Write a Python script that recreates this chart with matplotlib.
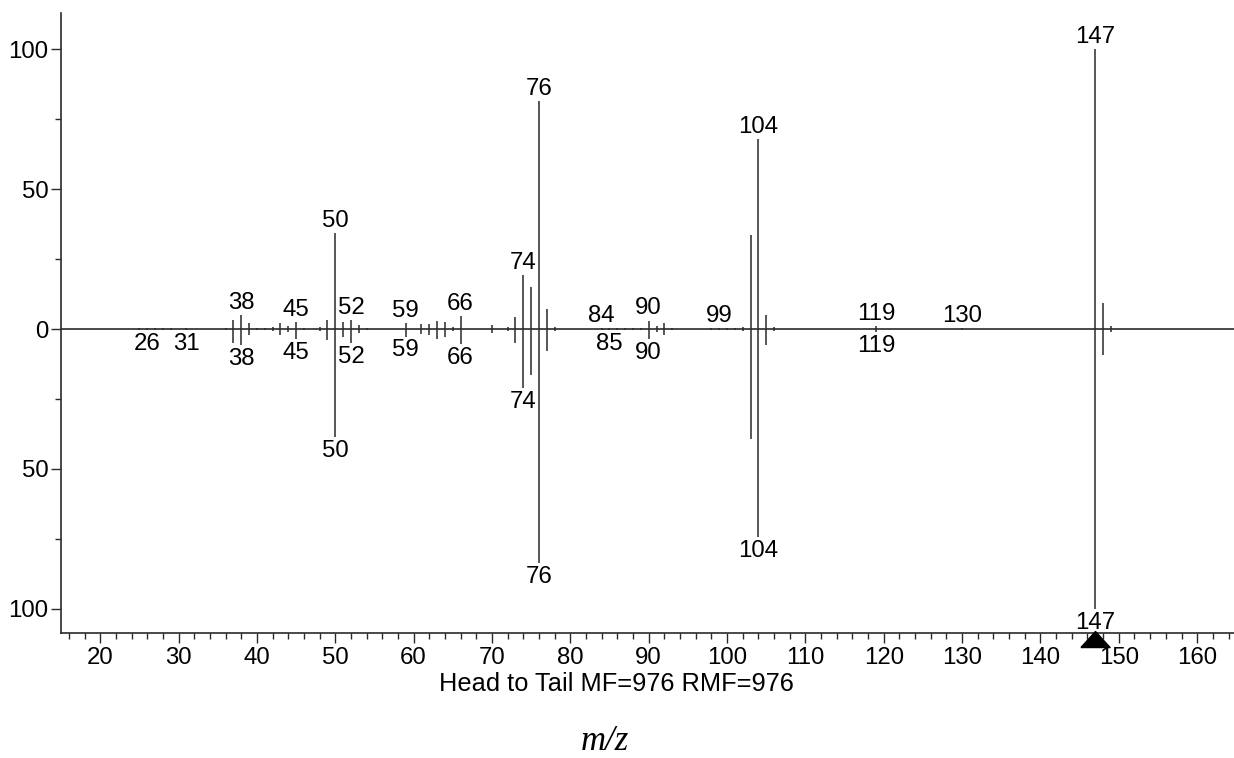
import matplotlib
matplotlib.use("Agg")
import matplotlib.pyplot as plt
from matplotlib.transforms import ScaledTranslation
from matplotlib.ticker import MultipleLocator, FixedLocator

# ---- data ----
mz = [25, 26, 27, 28, 29, 31, 36, 37, 38, 39, 40, 41, 42, 43, 44, 45, 46, 48, 49, 50,
      51, 52, 53, 54, 59, 61, 62, 63, 64, 65, 66, 70, 72, 73, 74, 75, 76, 77, 78,
      84, 85, 86, 87, 88, 89, 90, 91, 92, 93, 98, 99, 100, 101, 102, 103, 104, 105,
      106, 119, 130, 147, 148, 149]
head = [0.3, 0.5, 0.4, 0.4, 0.3, 0.4, 0.5, 3.2, 5.0, 2.0, 0.5, 0.5, 0.7, 2.0, 1.2, 2.4, 0.4, 0.6, 3.2, 34.3,
        2.6, 3.2, 1.3, 0.5, 2.0, 1.7, 1.7, 3.0, 2.4, 0.8, 4.6, 1.3, 0.6, 4.4, 19.3, 14.9, 81.4, 7.1, 0.7,
        0.3, 0.4, 0.4, 0.4, 0.4, 0.4, 3.0, 1.0, 2.0, 0.4, 0.4, 0.4, 0.4, 0.4, 0.7, 33.6, 67.9, 5.0,
        0.6, 1.0, 0.3, 100.0, 9.2, 1.0]
tail = [0.3, 0.5, 0.4, 0.3, 0.2, 0.3, 0.5, 4.9, 5.7, 2.1, 0.5, 0.5, 0.7, 2.0, 1.2, 3.7, 0.4, 0.6, 3.9, 38.6,
        3.0, 4.9, 1.3, 0.5, 2.7, 1.9, 2.0, 3.6, 2.7, 0.8, 5.4, 1.3, 0.6, 5.1, 21.0, 16.4, 83.6, 7.9, 0.7,
        0.3, 0.4, 0.4, 0.4, 0.4, 0.4, 3.7, 1.0, 2.1, 0.4, 0.4, 0.4, 0.4, 0.4, 0.7, 39.3, 74.3, 5.7,
        0.6, 1.0, 0.3, 100.0, 9.3, 1.0]
head_labels = [38, 45, 50, 52, 59, 66, 74, 76, 84, 90, 99, 104, 119, 130, 147]
tail_labels = [26, 31, 38, 45, 50, 52, 59, 66, 74, 76, 85, 90, 104, 119, 147]
x_ticks = list(range(20, 161, 10))
y_ticks = [-100, -50, 0, 50, 100]
y_tick_labels = ["100", "50", "0", "50", "100"]
marker_mz = 147
caption = "Head to Tail MF=976 RMF=976"
xlabel = "m/z"

plt.rcParams['font.family'] = ['Liberation Sans', 'DejaVu Sans']
FS = 17.3
LC = '#2a2a2a'

fig = plt.figure(figsize=(12.34, 7.58), dpi=100)
ax = fig.add_axes([61 / 1234, 1 - 633 / 758, 1 - 61 / 1234, (633 - 13) / 758])

ax.vlines(mz, 0, head, color=LC, lw=1.1)
ax.vlines(mz, 0, [-t for t in tail], color=LC, lw=1.1)
ax.axhline(0, color=LC, lw=1.2)

hmap = dict(zip(mz, head))
tmap = dict(zip(mz, tail))
for m in head_labels:
    ax.annotate(str(m), (m, hmap[m]), xytext=(0, 1), textcoords='offset points',
                ha='center', va='bottom', fontsize=FS, color='black')
for m in tail_labels:
    ax.annotate(str(m), (m, -tmap[m]), xytext=(0, -2), textcoords='offset points',
                ha='center', va='top', fontsize=FS, color='black')

ax.set_xlim(15.0, 164.7)
ax.set_ylim(-108.6, 112.9)

ax.xaxis.set_major_locator(FixedLocator(x_ticks))
ax.xaxis.set_minor_locator(MultipleLocator(2))
ax.set_xticklabels([str(t) for t in x_ticks])
ax.yaxis.set_major_locator(FixedLocator(y_ticks))
ax.yaxis.set_minor_locator(FixedLocator([-75, -25, 25, 75]))
ax.set_yticklabels(y_tick_labels)

ax.tick_params(axis='both', which='major', direction='out', length=7, width=1.0,
               color=LC, labelsize=FS, labelcolor='black')
ax.tick_params(axis='both', which='minor', direction='out', length=4, width=1.0, color=LC)
ax.tick_params(axis='x', which='major', pad=3)
ax.tick_params(axis='y', which='major', pad=2)

for s in ['top', 'right']:
    ax.spines[s].set_visible(False)
for s in ['left', 'bottom']:
    ax.spines[s].set_color(LC)
    ax.spines[s].set_linewidth(1.2)

# precursor marker on the x axis (flat triangle)
tri = [(-1.0, -0.55), (1.0, -0.55), (0.0, 0.55), (-1.0, -0.55)]
tr = ax.get_xaxis_transform() + ScaledTranslation(0, -5.5 / 100, fig.dpi_scale_trans)
ax.plot([marker_mz], [0], marker=tri, markersize=21, color='black', transform=tr,
        clip_on=False, zorder=5)

fig.text(616 / 1234, 1 - 684 / 758, caption, ha='center', va='center', fontsize=18.3, color='black')
fig.text(605 / 1234, 1 - 741 / 758, xlabel, ha='center', va='center', fontsize=25,
         family='Liberation Serif', style='italic', color='black')

fig.savefig('out.png', dpi=100)
